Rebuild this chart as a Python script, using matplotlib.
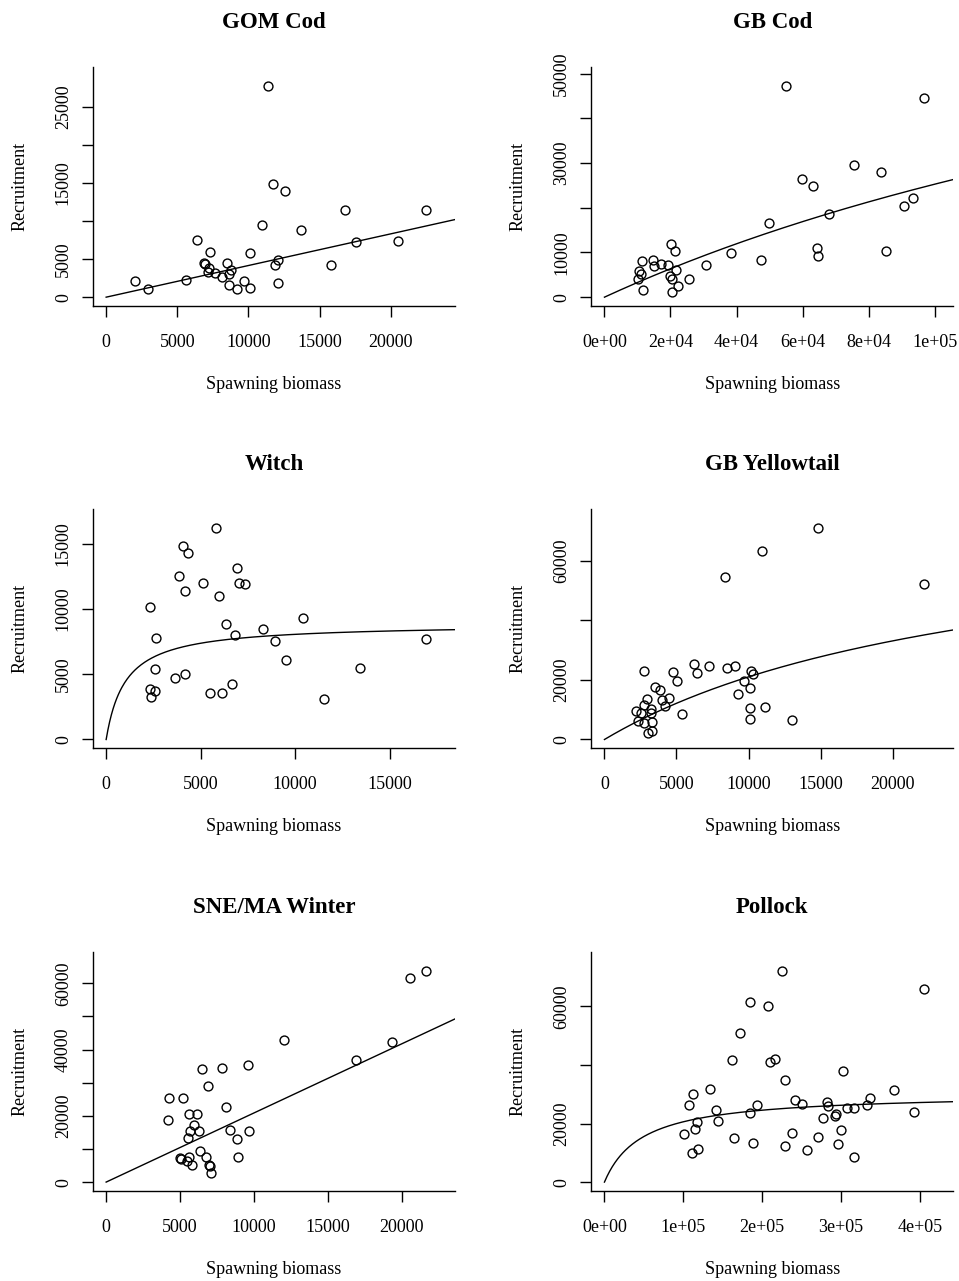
import numpy as np
import matplotlib
matplotlib.use("Agg")
import matplotlib.pyplot as plt

plt.rcParams['font.family'] = ['Liberation Serif', 'DejaVu Serif']

# ---- data (spawning biomass, recruitment) ----
gom_ssb = [11407, 11759, 12604, 16758, 22461, 10937, 13730, 6384, 17555, 20536,
           7276, 10092, 12111, 11853, 15818, 6853, 6970, 8520, 7229, 7135,
           8754, 7675, 8637, 8144, 2042, 5609, 9717, 12063, 8613, 2957, 9223, 10139]
gom_rec = [27740, 14913, 14000, 11435, 11522, 9478, 8870, 7565, 7304, 7435,
           5913, 5826, 4913, 4217, 4217, 4435, 4391, 4478, 3870, 3348,
           3609, 3217, 3087, 2652, 2087, 2304, 2087, 1826, 1609, 1043, 1130, 1261]

gbcod_ssb = [55050, 96770, 75660, 83640, 59900, 63030, 93540, 90610, 67980, 49700,
             20100, 64450, 21410, 85250, 38380, 64650, 47470, 11520, 14750, 14950,
             17170, 19390, 30610, 21820, 10400, 11110, 20000, 20610, 10200, 25660,
             22320, 11820, 20510]
gbcod_rec = [47190, 44450, 29580, 27960, 26480, 24780, 22110, 20490, 18710, 16490,
             11910, 11090, 10350, 10430, 9980, 9250, 8360, 8140, 8210, 7030,
             7400, 7170, 7100, 6140, 5920, 5250, 4810, 3990, 3990, 3990,
             2590, 1550, 1260]

witch_ssb = [5813, 4064, 4346, 6944, 3869, 5141, 7014, 7367, 4170, 5972,
             2297, 10424, 6325, 8304, 6820, 2633, 16909, 8940, 9541, 2562,
             13428, 4170, 3640, 6661, 2332, 2580, 5477, 6148, 2385, 11537]
witch_rec = [16190, 14870, 14290, 13150, 12560, 12030, 12030, 11930, 11400, 11040,
             10180, 9315, 8883, 8502, 8020, 7766, 7690, 7538, 6066, 5381,
             5457, 5000, 4721, 4264, 3883, 3731, 3604, 3553, 3223, 3122]

gbyt_ssb = [14815, 10926, 8380, 22176, 6204, 7269, 8519, 9051, 2778, 4769,
            6412, 10162, 10301, 5023, 9653, 3495, 3889, 10069, 9282, 2940,
            4491, 3981, 2778, 4236, 2199, 3241, 10116, 11134, 2569, 3241,
            5417, 2315, 2755, 3287, 10069, 13009, 3009, 3287]
gbyt_rec = [70750, 63100, 54450, 52230, 25400, 24510, 23950, 24620, 22850, 22510,
            22290, 22850, 22070, 19740, 19740, 17520, 16750, 17300, 15190, 13530,
            14080, 13200, 11640, 11090, 9650, 10090, 10650, 10870, 8760, 8980,
            8650, 6100, 5430, 5770, 6880, 6540, 2330, 2880]

sne_ssb = [21625, 20564, 12009, 19323, 16885, 9594, 6456, 7855, 6907, 4244,
           5192, 8080, 5621, 6140, 4176, 5959, 5644, 6253, 8352, 9661,
           5531, 8849, 6321, 4966, 5056, 5576, 6772, 8939, 5440, 5824,
           6930, 7043, 7088]
sne_rec = [63700, 61700, 42900, 42400, 36800, 35300, 34000, 34500, 28900, 25300,
           25300, 22600, 20500, 20500, 18700, 17300, 15500, 15400, 15700, 15400,
           13300, 13000, 9500, 7300, 7100, 7500, 7600, 7500, 6300, 5300,
           5300, 4900, 2600]

pollock_ssb = [225300, 405100, 184800, 206800, 171700, 161600, 216500, 210500, 302500, 228300,
               134200, 366700, 112700, 336700, 241300, 107200, 193200, 251100, 282300, 284000,
               333300, 308000, 316900, 141300, 184400, 392400, 293200, 292400, 277200, 116900,
               144300, 114300, 299600, 101300, 238400, 164100, 271300, 188600, 296200, 228300,
               119000, 257000, 111400, 316900]
pollock_rec = [72100, 66000, 61600, 60000, 50850, 41800, 42150, 41130, 38080, 34920,
               31750, 31410, 30170, 28820, 28020, 26440, 26440, 26670, 27350, 26100,
               26220, 25310, 25310, 24630, 23620, 24070, 23390, 22490, 21810, 20450,
               20900, 18190, 17740, 16270, 16840, 15030, 15370, 13450, 13110, 12200,
               11300, 11070, 9940, 8700]

# fitted curves: Beverton-Holt a*S/(b+S); b=None means straight line R = a*S
curve_params = [(0.416, None), (98470, 289800), (8891, 1019),
                (77700, 27000), (2.086, None), (30430, 47700)]

titles = ["GOM Cod", "GB Cod", "Witch", "GB Yellowtail", "SNE/MA Winter", "Pollock"]
ssb_all = [gom_ssb, gbcod_ssb, witch_ssb, gbyt_ssb, sne_ssb, pollock_ssb]
rec_all = [gom_rec, gbcod_rec, witch_rec, gbyt_rec, sne_rec, pollock_rec]

xticks_all = [[0, 5000, 10000, 15000, 20000],
              [0, 20000, 40000, 60000, 80000, 100000],
              [0, 5000, 10000, 15000],
              [0, 5000, 10000, 15000, 20000],
              [0, 5000, 10000, 15000, 20000],
              [0, 100000, 200000, 300000, 400000]]
xlabels_all = [["0", "5000", "10000", "15000", "20000"],
               ["0e+00", "2e+04", "4e+04", "6e+04", "8e+04", "1e+05"],
               ["0", "5000", "10000", "15000"],
               ["0", "5000", "10000", "15000", "20000"],
               ["0", "5000", "10000", "15000", "20000"],
               ["0e+00", "1e+05", "2e+05", "3e+05", "4e+05"]]
yticks_all = [[0, 5000, 10000, 15000, 20000, 25000],
              [0, 10000, 20000, 30000, 40000, 50000],
              [0, 5000, 10000, 15000],
              [0, 20000, 40000, 60000],
              [0, 10000, 20000, 30000, 40000, 50000, 60000],
              [0, 20000, 40000, 60000]]
ylabels_all = [["0", "5000", "", "15000", "", "25000"],
               ["0", "10000", "", "30000", "", "50000"],
               ["0", "5000", "10000", "15000"],
               ["0", "20000", "", "60000"],
               ["0", "", "20000", "", "40000", "", "60000"],
               ["0", "20000", "", "60000"]]

fig = plt.figure(figsize=(9.59, 12.81), dpi=100)

lefts = [0.0967, 0.6163]
bottoms = [0.7611, 0.4158, 0.0703]
w, h = 0.3778, 0.1868

for i in range(6):
    ax = fig.add_axes([lefts[i % 2], bottoms[i // 2], w, h])
    ssb = np.array(ssb_all[i])
    rec = np.array(rec_all[i])

    # R style limits: 0 .. 1.05*max, then 4% padding
    xmax = 1.05 * ssb.max()
    ymax = 1.05 * rec.max()
    ax.set_xlim(-0.04 * xmax, 1.04 * xmax)
    ax.set_ylim(-0.04 * ymax, 1.04 * ymax)

    ax.plot(ssb, rec, 'o', mfc='none', mec='black', ms=6.4, mew=1.0, clip_on=False)

    a, b = curve_params[i]
    s = np.linspace(0, 1.04 * xmax, 400)
    if b is None:
        r = a * s
    else:
        r = a * s / (b + s)
    ax.plot(s, r, color='black', lw=1.0)

    ax.spines['top'].set_visible(False)
    ax.spines['right'].set_visible(False)
    ax.spines['left'].set_linewidth(1.0)
    ax.spines['bottom'].set_linewidth(1.0)

    ax.set_xticks(xticks_all[i])
    ax.set_xticklabels(xlabels_all[i])
    ax.set_yticks(yticks_all[i])
    ax.set_yticklabels(ylabels_all[i], rotation=90, va='center')
    ax.tick_params(axis='both', length=8, width=1.0, labelsize=13)
    ax.tick_params(axis='x', pad=12)
    ax.tick_params(axis='y', pad=7)

    ax.set_title(titles[i], fontsize=16.5, fontweight='bold', pad=28)
    ax.set_xlabel("Spawning biomass", fontsize=13, labelpad=18)
    ax.set_ylabel("Recruitment", fontsize=13, labelpad=19)

fig.savefig("out.png", dpi=100)
